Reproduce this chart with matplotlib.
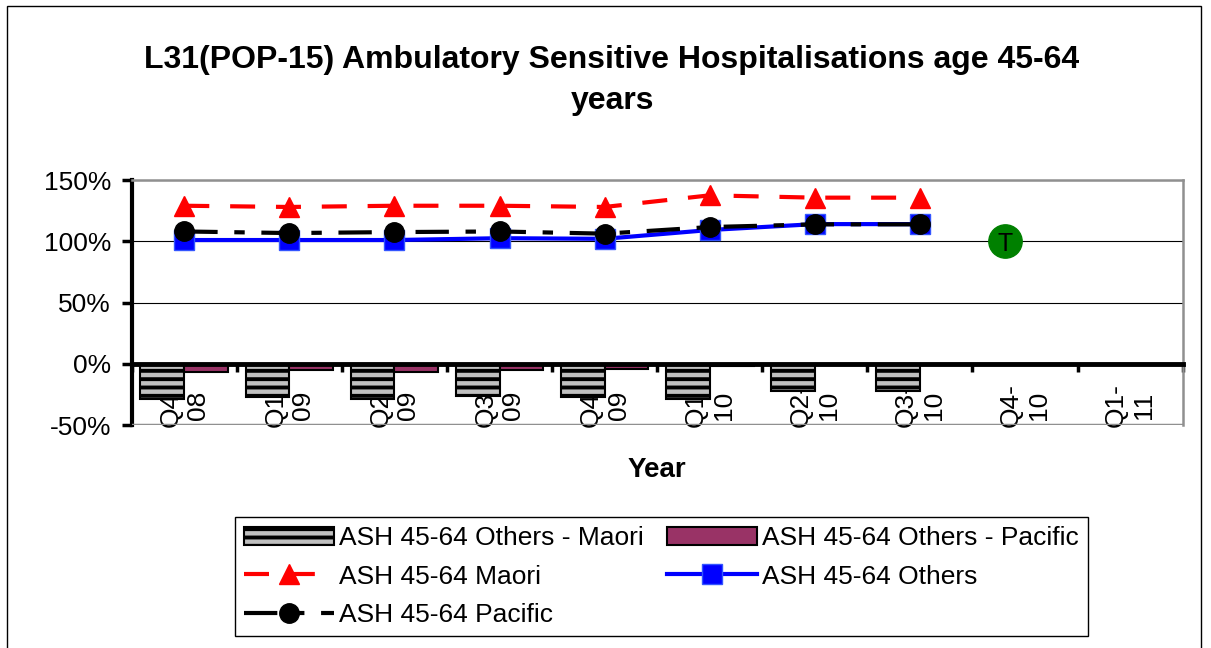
import matplotlib
matplotlib.use("Agg")
import matplotlib.pyplot as plt
from matplotlib.patches import Rectangle
from matplotlib.ticker import FuncFormatter
import numpy as np

plt.rcParams['font.family'] = ['Liberation Sans', 'DejaVu Sans']
plt.rcParams['hatch.linewidth'] = 2.8

# data (percent)
quarters = ["Q4-\n08", "Q1-\n09", "Q2-\n09", "Q3-\n09", "Q4-\n09",
            "Q1-\n10", "Q2-\n10", "Q3-\n10", "Q4-\n10", "Q1-\n11"]
maori = [129, 128, 129, 129, 128, 137.5, 135.6, 135.6]
others = [101, 101, 101, 102.5, 102, 109.2, 114, 114]
pacific = [108, 106.7, 107.5, 108, 106.2, 111.6, 113.8, 113.8]
others_minus_maori = [-28.6, -27.2, -28.6, -26.2, -27.2, -28.6, -22.3, -22.3]
others_minus_pacific = [-6.8, -5.2, -6.5, -5.4, -4.4, -1.8, 0, 0]
target_x = 7.81
target_y = 100

n = len(maori)
x = np.arange(n)
bw = 0.417

fig = plt.figure(figsize=(12.11, 6.48), dpi=100)
ax = fig.add_axes([0.1088, 0.3441, 0.8678, 0.3781])

b1 = ax.bar(x - bw / 2, others_minus_maori, bw, color='#c0c0c0', edgecolor='black',
            hatch='--', linewidth=1.5, zorder=2, label='ASH 45-64 Others - Maori')
b2 = ax.bar(x + bw / 2, others_minus_pacific, bw, color='#993366', edgecolor='black',
            linewidth=1.5, zorder=2, label='ASH 45-64 Others - Pacific')

l1, = ax.plot(x, maori, color='red', lw=3, dashes=(6, 5), marker='^', ms=15,
              zorder=4, label='ASH 45-64 Maori')
l2, = ax.plot(x, others, color='#0000ff', lw=3, marker='s', ms=14,
              markeredgecolor='#3355ff', zorder=5, label='ASH 45-64 Others')
l3, = ax.plot(x, pacific, color='black', lw=3, dashes=(8, 4, 2.5, 4), marker='o', ms=14,
              zorder=6, label='ASH 45-64 Pacific')

# target marker
ax.plot([target_x], [target_y], 'o', color='#008000', ms=24, zorder=6)
ax.text(target_x, target_y - 2, 'T', ha='center', va='center', fontsize=18, zorder=7)

ax.set_xlim(-0.5, len(quarters) - 0.5)
ax.set_ylim(-50, 150)
ax.set_yticks([-50, 0, 50, 100, 150])
ax.yaxis.set_major_formatter(FuncFormatter(lambda v, p: f"{v:.0f}%"))
ax.tick_params(axis='y', labelsize=19, length=7, width=2.5, pad=8)

ax.set_xticks(np.arange(len(quarters) + 1) - 0.5)
ax.tick_params(axis='x', labelbottom=False, direction='out', length=6, width=2.5)

for i, q in enumerate(quarters):
    ax.text(i, -34, q, rotation=90, ha='center', va='center', multialignment='center',
            fontsize=19, zorder=0.5, linespacing=1.2)

ax.grid(axis='y', color='black', lw=0.8)
ax.spines['bottom'].set_position(('data', 0))
ax.spines['bottom'].set_linewidth(3.5)
ax.spines['left'].set_linewidth(3)
for s in ['top', 'right']:
    ax.spines[s].set_color('#909090')
    ax.spines[s].set_linewidth(1.8)
ax.axhline(-50, color='#909090', lw=2.5, zorder=3)

fig.text(0.5054, 0.876, "L31(POP-15) Ambulatory Sensitive Hospitalisations age 45-64\nyears",
         ha='center', va='center', fontsize=23, fontweight='bold', linespacing=1.45)
fig.text(0.5425, 0.2745, 'Year', ha='center', va='center', fontsize=20, fontweight='bold')

leg = fig.legend([b1, l1, l3, b2, l2],
                 [b1.get_label(), l1.get_label(), l3.get_label(), b2.get_label(), l2.get_label()],
                 loc='center', bbox_to_anchor=(0.5462, 0.110), ncol=2, fontsize=19,
                 handlelength=3.4, handletextpad=0.2, columnspacing=0.9, labelspacing=0.55,
                 fancybox=False, edgecolor='black', framealpha=1, borderpad=0.35)
leg.get_frame().set_linewidth(1)

fig.patches.append(Rectangle((7 / 1211, -0.1), 1194 / 1211, 1.1 - 6 / 648,
                             transform=fig.transFigure, fill=False, edgecolor='black', lw=1))

fig.savefig('out.png', dpi=100)
